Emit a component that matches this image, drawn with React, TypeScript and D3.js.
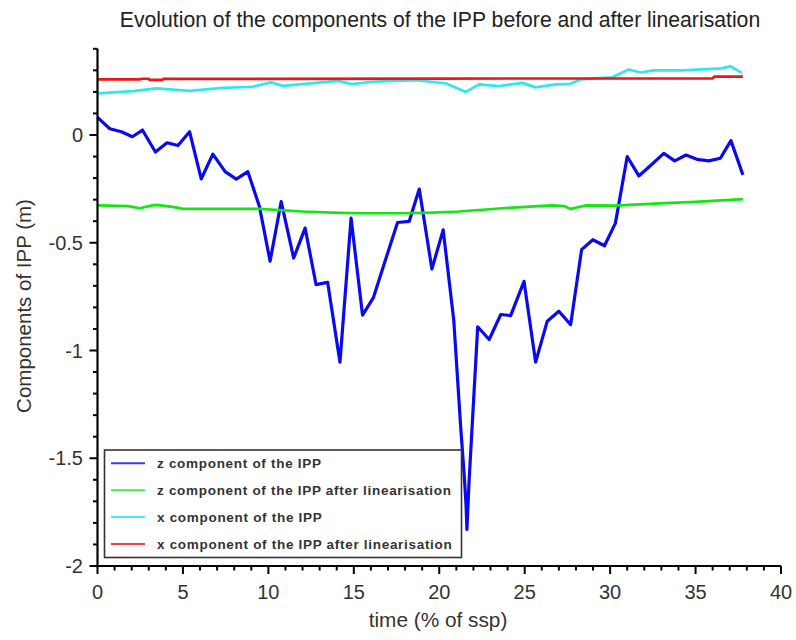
import React from "react";
import * as d3 from "d3";

const title = "Evolution of the components of the IPP before and after linearisation";
const xLabel = "time (% of ssp)";
const yLabel = "Components of IPP (m)";

const xTicks = [0, 5, 10, 15, 20, 25, 30, 35, 40];
const yTicks = [0, -0.5, -1, -1.5, -2];

const zIPP: [number, number][] = [
  [0, 0.082], [0.72, 0.029], [1.4, 0.015], [2.04, -0.008], [2.63, 0.023], [3.39, -0.079],
  [4.07, -0.036], [4.71, -0.049], [5.39, 0.015], [6.07, -0.204], [6.75, -0.089], [7.47, -0.17],
  [8.12, -0.205], [8.8, -0.17], [9.48, -0.333], [10.1, -0.586], [10.75, -0.309], [11.48, -0.571],
  [12.15, -0.432], [12.79, -0.694], [13.47, -0.684], [14.19, -1.054], [14.84, -0.386], [15.51, -0.836],
  [16.14, -0.756], [16.85, -0.58], [17.56, -0.406], [18.24, -0.401], [18.83, -0.251], [19.57, -0.622],
  [20.23, -0.44], [20.85, -0.86], [21.25, -1.35], [21.48, -1.6], [21.57, -1.72], [21.62, -1.83],
  [21.75, -1.6], [22.25, -0.89], [22.92, -0.949], [23.6, -0.833], [24.18, -0.838], [24.96, -0.679],
  [25.64, -1.054], [26.32, -0.864], [27.0, -0.818], [27.69, -0.88], [28.33, -0.532], [28.99, -0.486],
  [29.67, -0.514], [30.31, -0.409], [31.0, -0.1], [31.68, -0.19], [32.4, -0.139], [33.14, -0.085],
  [33.78, -0.12], [34.44, -0.093], [35.08, -0.113], [35.77, -0.12], [36.45, -0.108], [37.07, -0.026],
  [37.77, -0.185],
];

const zLin: [number, number][] = [
  [0, -0.327], [1.8, -0.33], [2.47, -0.34], [3.0, -0.33], [3.44, -0.324], [4.5, -0.335],
  [5.0, -0.343], [9.5, -0.343], [12.0, -0.355], [13.76, -0.36], [15.3, -0.363], [17.66, -0.363],
  [19.6, -0.36], [21.16, -0.355], [23.7, -0.34], [26.6, -0.327], [27.3, -0.33], [27.69, -0.343],
  [28.56, -0.327], [30.3, -0.328], [33.2, -0.316], [35.0, -0.31], [37.77, -0.298],
];

const xIPP: [number, number][] = [
  [0, 0.193], [2.08, 0.204], [3.44, 0.216], [5.39, 0.205], [7.34, 0.219], [9.09, 0.224],
  [10.16, 0.244], [10.84, 0.228], [12.79, 0.242], [14.1, 0.251], [14.88, 0.236], [16.1, 0.247],
  [18.7, 0.255], [20.4, 0.239], [21.55, 0.2], [22.33, 0.235], [23.5, 0.227], [24.86, 0.242],
  [25.64, 0.221], [26.81, 0.235], [27.59, 0.236], [28.27, 0.258], [30.12, 0.268], [31.09, 0.304],
  [31.78, 0.29], [32.55, 0.3], [34.2, 0.3], [36.54, 0.309], [37.03, 0.319], [37.71, 0.288],
];

const xLin: [number, number][] = [
  [0, 0.258], [2.5, 0.258], [2.55, 0.261], [3.0, 0.261], [3.05, 0.256], [3.8, 0.256],
  [3.85, 0.26], [20, 0.262], [36.0, 0.263], [36.1, 0.271], [37.77, 0.271],
];

const seriesNames = [
  "z component of the IPP",
  "z component of the IPP after linearisation",
  "x component of the IPP",
  "x component of the IPP after linearisation",
];
const seriesData = [zIPP, zLin, xIPP, xLin];
const seriesColors = ["#0a0af0", "#14e614", "#2ee8f0", "#f01414"];
const seriesWidths = [3.2, 2.7, 2.7, 2.7];
const legendColors = ["#3a3af5", "#44ee44", "#44eef0", "#f04040"];

const FONT = "'Liberation Sans', Arial, sans-serif";

export default function App() {
  const x = d3.scaleLinear().domain([0, 40]).range([97.5, 781]);
  const y = d3.scaleLinear().domain([-2, 0.4]).range([566, 48.8]);
  const line = d3.line<[number, number]>().x((d) => x(d[0])).y((d) => y(d[1]));

  const xMinor = d3.range(0, 41, 1);
  const yMinor = d3.range(-20, 5, 1).map((v) => v / 10);

  return (
    <svg width={796} height={640} style={{ position: "fixed", left: 0, top: 0, background: "#fff" }}>
      <rect x={0} y={0} width={796} height={640} fill="#fff" />
      <text x={440} y={27} textAnchor="middle" fontFamily={FONT} fontSize={21.2} fill="#222">
        {title}
      </text>

      {seriesData.map((d, i) => (
        <path key={i} d={line(d) || ""} fill="none" stroke={seriesColors[i]} strokeWidth={seriesWidths[i]} strokeLinejoin="round" />
      ))}

      {/* axes */}
      <line x1={x(0)} x2={x(0)} y1={y(0.4)} y2={y(-2)} stroke="#000" strokeWidth={2.2} />
      <line x1={x(0)} x2={x(40)} y1={y(-2)} y2={y(-2)} stroke="#000" strokeWidth={2.2} />
      {yMinor.map((v, i) => (
        <line key={"ym" + i} x1={x(0) - (Math.abs(Math.round(v * 10)) % 5 === 0 ? 8 : 4.5)} x2={x(0)} y1={y(v)} y2={y(v)} stroke="#000" strokeWidth={2} />
      ))}
      {xMinor.map((v, i) => (
        <line key={"xm" + i} x1={x(v)} x2={x(v)} y1={y(-2)} y2={y(-2) + (v % 5 === 0 ? 8 : 4.5)} stroke="#000" strokeWidth={2} />
      ))}
      {xTicks.map((v) => (
        <text key={"xt" + v} x={x(v)} y={599} textAnchor="middle" fontFamily={FONT} fontSize={20} fill="#333">
          {v}
        </text>
      ))}
      {yTicks.map((v) => (
        <text key={"yt" + v} x={83} y={y(v) + 7} textAnchor="end" fontFamily={FONT} fontSize={20} fill="#333">
          {v}
        </text>
      ))}
      <text x={438} y={627} textAnchor="middle" fontFamily={FONT} fontSize={20.8} fill="#333">
        {xLabel}
      </text>
      <text transform={`translate(31,306) rotate(-90)`} textAnchor="middle" fontFamily={FONT} fontSize={20.5} fill="#333">
        {yLabel}
      </text>

      {/* legend */}
      <rect x={104.5} y={450} width={357} height={107.5} fill="#fff" stroke="#333" strokeWidth={1.6} />
      {seriesNames.map((name, i) => {
        const ly = 463.3 + i * 26.9;
        return (
          <g key={"lg" + i}>
            <line x1={111} x2={145} y1={ly} y2={ly} stroke={legendColors[i]} strokeWidth={2} />
            <text x={157} y={ly + 4.8} fontFamily={FONT} fontSize={13.5} fontWeight="bold" letterSpacing={0.7} fill="#333">
              {name}
            </text>
          </g>
        );
      })}
    </svg>
  );
}
